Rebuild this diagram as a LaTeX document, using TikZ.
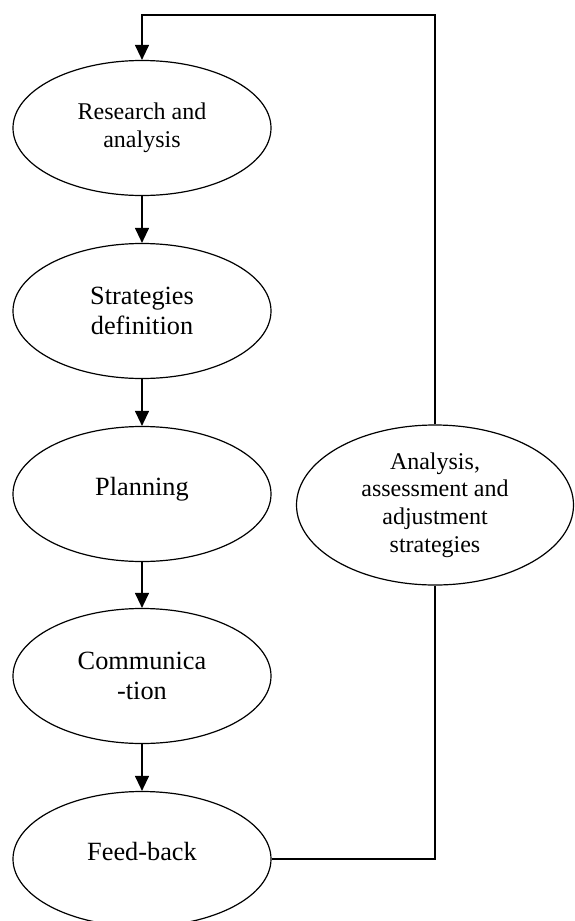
\documentclass[tikz,border=0pt]{standalone}
\usepackage{fontspec}
\setmainfont{Liberation Serif}
\usetikzlibrary{shapes.geometric,arrows.meta}
\begin{document}
\begin{tikzpicture}[x=1pt,y=-1pt,
  stage/.style={draw, line width=1.2pt, ellipse, minimum width=258pt, minimum height=135pt, inner sep=0pt, align=center},
  big/.style={font=\fontsize{26.3}{30}\selectfont},
  small/.style={font=\fontsize{24}{27.7}\selectfont},
  oneline/.style={text height=13pt, text depth=10pt},
  conn/.style={line width=1.2pt},
  arr/.style={conn, -{Triangle[length=15pt,width=14pt]}}]
\useasboundingbox (0,0) rectangle (575,921);
\node[stage, small] (r) at (142,128) {Research and\\analysis};
\node[stage, big] (s) at (142,311) {Strategies\\definition};
\node[stage, big, oneline] (p) at (142,494) {Planning};
\node[stage, big] (c) at (142,676) {Communica\\-tion};
\node[stage, big, oneline] (f) at (142,859) {Feed-back};
\node[stage, small, minimum width=277pt, minimum height=160pt] (a) at (435,505) {Analysis,\\assessment and\\adjustment\\strategies};
\coordinate (top) at (142,15);
\draw[arr] (r) -- (s);
\draw[arr] (s) -- (p);
\draw[arr] (p) -- (c);
\draw[arr] (c) -- (f);
\draw[arr] (a.north) -- (a.north |- top) -- (top) -- (r.north);
\draw[conn] (f.east) -- (f.east -| a.south) -- (a.south);
\end{tikzpicture}
\end{document}
